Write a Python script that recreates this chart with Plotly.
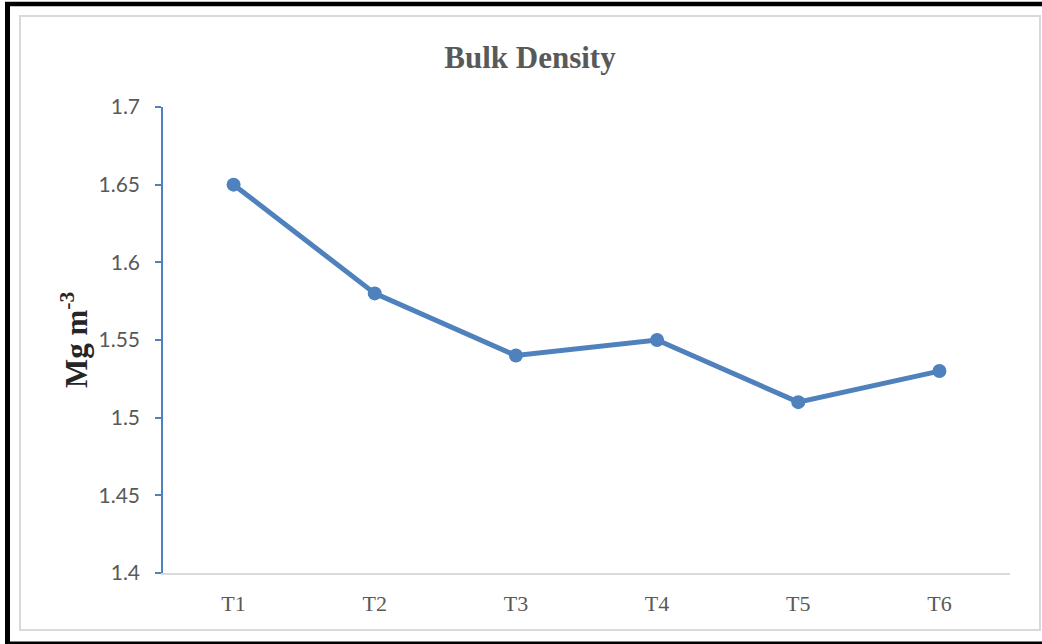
import plotly.graph_objects as go

categories = ["T1", "T2", "T3", "T4", "T5", "T6"]
bulk_density = [1.65, 1.58, 1.54, 1.55, 1.51, 1.53]
y_ticks = [1.4, 1.45, 1.5, 1.55, 1.6, 1.65, 1.7]
y_ticktext = ["1.4", "1.45", "1.5", "1.55", "1.6", "1.65", "1.7"]

W, H = 1042, 644
L, R, T, B = 163, 1010, 107, 573
pw, ph = R - L, B - T

def px(x):
    return (x - L) / pw

def py(y):
    return (B - y) / ph

blue = "#4F81BD"

fig = go.Figure(go.Scatter(
    x=categories, y=bulk_density, mode="lines+markers",
    line=dict(color=blue, width=5),
    marker=dict(color=blue, size=14),
    showlegend=False, cliponaxis=False,
))

fig.update_layout(
    width=W, height=H,
    margin=dict(l=L, r=W - R, t=T, b=H - B),
    paper_bgcolor="white", plot_bgcolor="white",
    title=dict(text="<b>Bulk Density</b>", x=530 / W, xref="container", xanchor="center",
               y=1 - 57 / H, yref="container", yanchor="middle",
               font=dict(family="Liberation Serif", size=31, color="#595959")),
    xaxis=dict(type="category", showgrid=False, showline=True, linecolor="#D9D9D9", linewidth=1.5,
               ticks="", tickfont=dict(family="Liberation Serif", size=22, color="#595959"),
               ticklabelstandoff=10, range=[-0.5, 5.5]),
    yaxis=dict(range=[1.4, 1.7], tickvals=y_ticks, ticktext=y_ticktext, showgrid=False,
               showline=True, linecolor=blue, linewidth=1.5, ticks="outside", ticklen=6,
               tickcolor=blue, tickwidth=1.5, zeroline=False,
               tickfont=dict(family="Lato", size=21, color="#595959"),
               ticklabelstandoff=11),
    shapes=[
        dict(type="rect", xref="paper", yref="paper", x0=px(20), x1=px(1040), y0=py(630), y1=py(16),
             line=dict(color="#D9D9D9", width=2), layer="below"),
        dict(type="line", xref="paper", yref="paper", x0=px(7.5), x1=px(7.5), y0=py(2), y1=py(644),
             line=dict(color="black", width=5)),
        dict(type="line", xref="paper", yref="paper", x0=px(5), x1=px(1045), y0=py(4), y1=py(4),
             line=dict(color="black", width=4.5)),
        dict(type="line", xref="paper", yref="paper", x0=px(5), x1=px(1045), y0=py(643), y1=py(643),
             line=dict(color="black", width=3)),
    ],
    annotations=[
        dict(text="<b>Mg m<sup>-3</sup></b>", xref="paper", yref="paper", x=px(74), y=py(340),
             xanchor="center", yanchor="middle", showarrow=False, textangle=-90,
             font=dict(family="Liberation Serif", size=31, color="#262626")),
    ],
)

fig.write_html("out.html")
